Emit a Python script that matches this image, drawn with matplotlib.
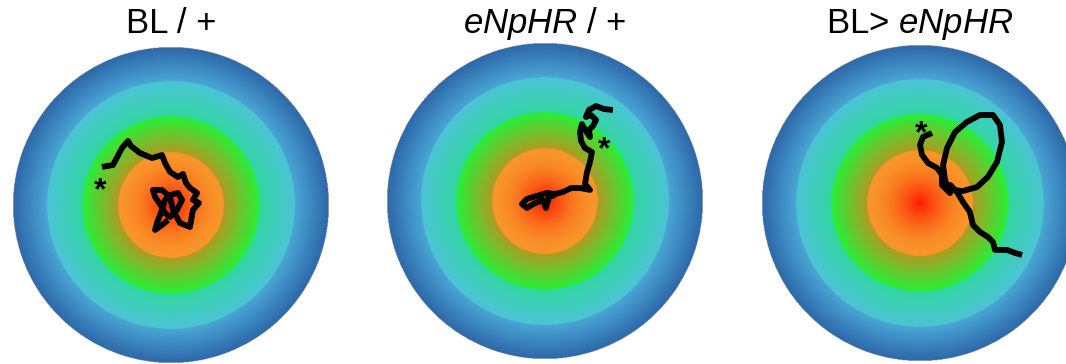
"""Example larval tracks on a radial light/odour gradient arena, one per genotype."""

import numpy as np
import matplotlib.pyplot as plt
from matplotlib import transforms
from matplotlib.colors import to_rgb

plt.rcParams['font.family'] = 'Liberation Sans'
plt.rcParams['mathtext.fontset'] = 'custom'
plt.rcParams['mathtext.rm'] = 'Liberation Sans'
plt.rcParams['mathtext.it'] = 'Liberation Sans:italic'

# genotypes
titles = [r"BL / +", r"$\mathit{eNpHR}$ / +", r"BL> $\mathit{eNpHR}$"]

# zone boundaries in units of arena radius (outer -> inner) and their colour ramps
zone_edges = [1.0, 0.785, 0.563, 0.335, 0.0]
zone_colors = [
    ("#2d68aa", "#4aa6d4"),
    ("#4cc4d6", "#33d6a2"),
    ("#26f03a", "#b09a22"),
    ("#f8962a", "#ff1a00"),
]

# tracks, arena coordinates (centre = 0, rim = 1)
bl_x = [-0.437, -0.367, -0.310, -0.272, -0.253, -0.196, -0.120, -0.057, -0.038,
        -0.006, 0.044, 0.076, 0.095, 0.120, 0.165, 0.139, 0.177, 0.139, 0.120,
        0.057, 0.013, -0.006, -0.057, -0.114, -0.101, -0.057, -0.038, -0.006,
        0.038, 0.070, 0.044, -0.006, -0.038, -0.057, -0.089, -0.101, -0.057, -0.019]
bl_y = [0.241, 0.253, 0.361, 0.405, 0.373, 0.329, 0.297, 0.316, 0.266,
        0.209, 0.177, 0.196, 0.139, 0.108, 0.076, 0.032, 0.013, -0.032, -0.139,
        -0.114, -0.032, 0.051, 0.095, 0.095, 0.051, -0.013, -0.051, -0.076,
        -0.032, 0.032, 0.076, 0.063, 0.032, -0.032, -0.114, -0.158, -0.127, -0.095]

np_x = [0.430, 0.373, 0.323, 0.278, 0.259, 0.291, 0.323, 0.304, 0.278, 0.285,
        0.259, 0.234, 0.222, 0.228, 0.253, 0.297, 0.285, 0.266, 0.253, 0.285,
        0.222, 0.165, 0.114, 0.063, 0.013, -0.032, -0.076, -0.114, -0.146,
        -0.114, -0.063, -0.013, 0.006, 0.025, 0.063]
np_y = [0.576, 0.582, 0.601, 0.576, 0.532, 0.544, 0.513, 0.475, 0.449, 0.405,
        0.443, 0.487, 0.437, 0.380, 0.335, 0.310, 0.247, 0.184, 0.108, 0.070,
        0.082, 0.082, 0.057, 0.044, 0.051, 0.038, 0.025, 0.013, -0.019,
        -0.044, -0.013, 0.006, -0.044, 0.025, 0.038]

blnp_x = [0.076, 0.019, 0.000, 0.013, 0.051, 0.108, 0.139, 0.139, 0.190, 0.158,
          0.146, 0.171, 0.222, 0.297, 0.380, 0.462, 0.506, 0.519, 0.487, 0.430,
          0.361, 0.272, 0.209, 0.190, 0.234, 0.272, 0.316, 0.335, 0.380, 0.430,
          0.462, 0.475, 0.551, 0.601, 0.646]
blnp_y = [0.443, 0.418, 0.367, 0.304, 0.253, 0.222, 0.177, 0.114, 0.063, 0.146,
          0.241, 0.348, 0.449, 0.513, 0.557, 0.557, 0.494, 0.386, 0.259, 0.165,
          0.101, 0.076, 0.082, 0.114, 0.070, 0.006, -0.057, -0.139, -0.184, -0.215,
          -0.247, -0.297, -0.297, -0.316, -0.329]

tracks = [(bl_x, bl_y), (np_x, np_y), (blnp_x, blnp_y)]

# start-of-track markers
start_x = [-0.449, 0.373, 0.006]
start_y = [0.152, 0.386, 0.500]


def arena_image(n=640):
    """RGBA image of the concentric zones with a colour ramp inside each."""
    g = np.linspace(-1, 1, n)
    xx, yy = np.meshgrid(g, g)
    r = np.hypot(xx, yy)
    img = np.zeros((n, n, 4))
    for k, (c_out, c_in) in enumerate(zone_colors):
        r_out, r_in = zone_edges[k], zone_edges[k + 1]
        mask = (r <= r_out) & (r > r_in) if r_in > 0 else (r <= r_out)
        t = np.clip((r_out - r) / (r_out - r_in), 0, 1)
        if k == len(zone_colors) - 1:
            t = t ** 1.8
        a, b = np.array(to_rgb(c_out)), np.array(to_rgb(c_in))
        col = a + (b - a) * t[..., None]
        img[mask, :3] = col[mask]
        img[mask, 3] = 1.0
    return img


W, H = 1066, 364
centres = [(171, 205), (545, 201), (920, 203)]
R = 158

fig = plt.figure(figsize=(W / 100, H / 100), dpi=100)
img = arena_image()

for i, (cx, cy) in enumerate(centres):
    ax = fig.add_axes([(cx - R) / W, (H - cy - R) / H, 2 * R / W, 2 * R / H])
    ax.imshow(img, extent=(-1, 1, -1, 1), origin='lower', interpolation='bilinear')
    tx, ty = tracks[i]
    ax.plot(tx, ty, color='black', lw=4.2, solid_joinstyle='round',
            solid_capstyle='butt')
    off = transforms.offset_copy(ax.transData, fig=fig, y=-13, units='points')
    ax.text(start_x[i], start_y[i], '*', transform=off, fontsize=23,
            fontweight='bold', ha='center', va='baseline', color='black')
    ax.set_xlim(-1, 1)
    ax.set_ylim(-1, 1)
    ax.axis('off')

    fig.text(cx / W, 1 - 33 / H, titles[i], fontsize=25, ha='center',
             va='baseline')

fig.savefig('out.png', dpi=100)
